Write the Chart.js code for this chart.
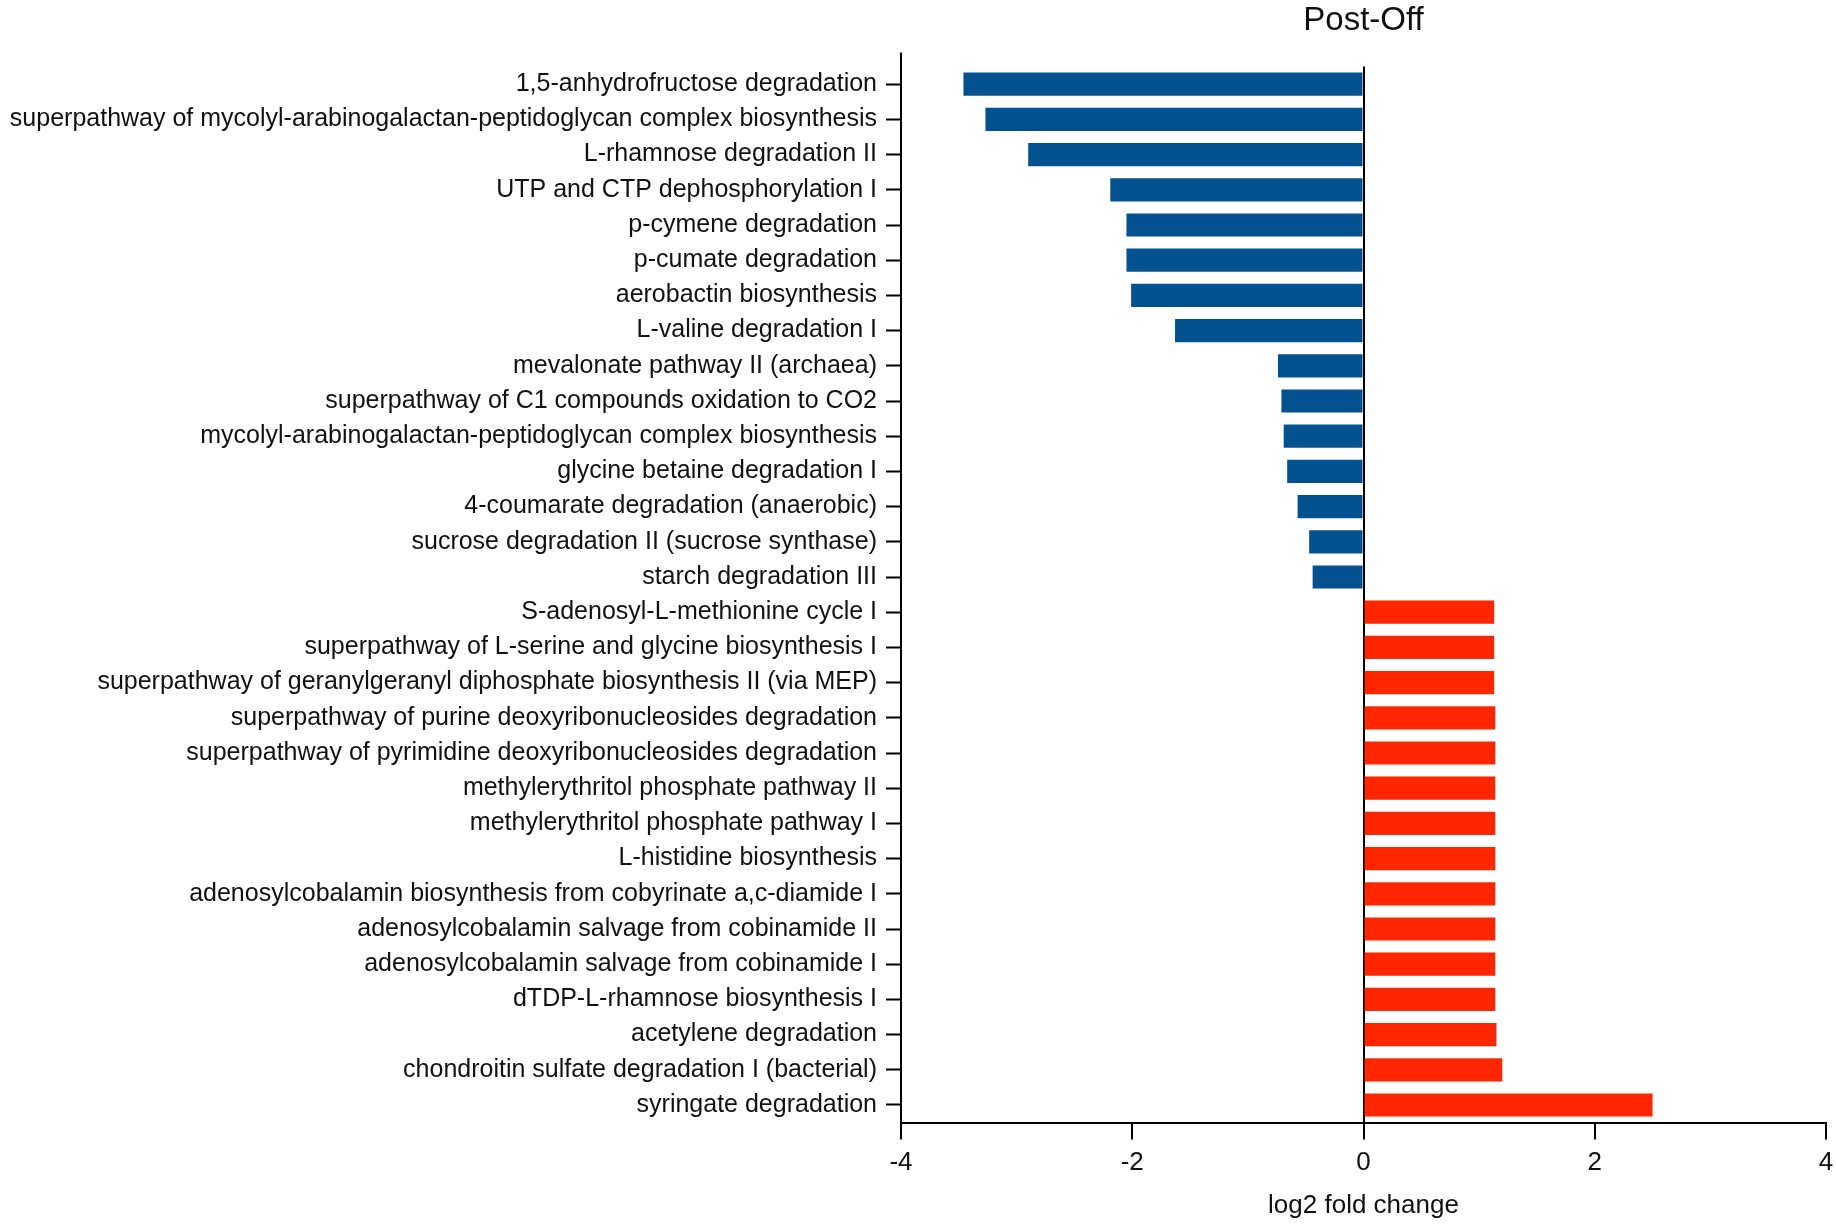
<!DOCTYPE html>
<html>
<head>
<meta charset="utf-8">
<script src="https://cdn.jsdelivr.net/npm/chart.js@4.4.0/dist/chart.umd.min.js"></script>
<style>
    html, body { margin: 0; padding: 0; background: #fff; }
    #wrap { width: 1836px; height: 1225px; }
</style>
</head>
<body>
<div id="wrap"><canvas id="foldChart"></canvas></div>
<script>
const pathways = [
    '1,5-anhydrofructose degradation',
    'superpathway of mycolyl-arabinogalactan-peptidoglycan complex biosynthesis',
    'L-rhamnose degradation II',
    'UTP and CTP dephosphorylation I',
    'p-cymene degradation',
    'p-cumate degradation',
    'aerobactin biosynthesis',
    'L-valine degradation I',
    'mevalonate pathway II (archaea)',
    'superpathway of C1 compounds oxidation to CO2',
    'mycolyl-arabinogalactan-peptidoglycan complex biosynthesis',
    'glycine betaine degradation I',
    '4-coumarate degradation (anaerobic)',
    'sucrose degradation II (sucrose synthase)',
    'starch degradation III',
    'S-adenosyl-L-methionine cycle I',
    'superpathway of L-serine and glycine biosynthesis I',
    'superpathway of geranylgeranyl diphosphate biosynthesis II (via MEP)',
    'superpathway of purine deoxyribonucleosides degradation',
    'superpathway of pyrimidine deoxyribonucleosides degradation',
    'methylerythritol phosphate pathway II',
    'methylerythritol phosphate pathway I',
    'L-histidine biosynthesis',
    'adenosylcobalamin biosynthesis from cobyrinate a,c-diamide I',
    'adenosylcobalamin salvage from cobinamide II',
    'adenosylcobalamin salvage from cobinamide I',
    'dTDP-L-rhamnose biosynthesis I',
    'acetylene degradation',
    'chondroitin sulfate degradation I (bacterial)',
    'syringate degradation'
];

const log2FoldChange = [
    -3.46, -3.27, -2.90, -2.19, -2.05, -2.05, -2.01, -1.63, -0.74, -0.71,
    -0.69, -0.66, -0.57, -0.47, -0.44,
    1.13, 1.13, 1.13, 1.14, 1.14, 1.14, 1.14, 1.14, 1.14, 1.14,
    1.14, 1.14, 1.15, 1.20, 2.50
];

const xTicks = [-4, -2, 0, 2, 4];

const downColor = '#03528f';
const upColor = '#ff2600';
const fontFamily = "'Liberation Sans', Arial, sans-serif";

// stretch the left axis line a little above the first bar, as in the figure
const axisExtend = {
    id: 'axisExtend',
    afterDraw(chart) {
        const ctx = chart.ctx;
        const area = chart.chartArea;
        ctx.save();
        ctx.strokeStyle = '#000';
        ctx.lineWidth = 2;
        ctx.beginPath();
        ctx.moveTo(area.left, area.top - 14);
        ctx.lineTo(area.left, area.top + 1);
        ctx.stroke();
        ctx.restore();
    }
};

const ctx = document.getElementById('foldChart').getContext('2d');
new Chart(ctx, {
    type: 'bar',
    data: {
        labels: pathways,
        datasets: [{
            data: log2FoldChange,
            backgroundColor: log2FoldChange.map(v => v < 0 ? downColor : upColor),
            borderWidth: 0,
            categoryPercentage: 1,
            barPercentage: 0.66
        }]
    },
    options: {
        indexAxis: 'y',
        responsive: true,
        maintainAspectRatio: false,
        animation: false,
        layout: {
            padding: { left: 0, right: 10, top: 0, bottom: 4 }
        },
        scales: {
            x: {
                min: -4,
                max: 4,
                afterBuildTicks: scale => {
                    scale.ticks = xTicks.map(v => ({ value: v }));
                },
                afterFit: scale => {
                    scale.paddingRight = 2;
                },
                border: { color: '#000', width: 2 },
                grid: {
                    color: c => c.tick && c.tick.value === 0 ? '#000' : 'rgba(0,0,0,0)',
                    lineWidth: 2,
                    tickColor: '#000',
                    tickLength: 17,
                    tickWidth: 2
                },
                ticks: {
                    color: '#111',
                    padding: 8,
                    font: { family: fontFamily, size: 26 }
                },
                title: {
                    display: true,
                    text: 'log2 fold change',
                    color: '#111',
                    padding: { top: 3, bottom: 0 },
                    font: { family: fontFamily, size: 26 }
                }
            },
            y: {
                border: { color: '#000', width: 2 },
                afterFit: scale => {
                    scale.width = 901;
                },
                grid: {
                    offset: false,
                    drawOnChartArea: false,
                    color: '#000',
                    tickLength: 15,
                    tickWidth: 2
                },
                ticks: {
                    color: '#111',
                    padding: 9,
                    autoSkip: false,
                    font: { family: fontFamily, size: 25 }
                }
            }
        },
        plugins: {
            legend: { display: false },
            tooltip: { enabled: false },
            title: {
                display: true,
                text: 'Post-Off',
                fullSize: false,
                color: '#111',
                padding: { top: 1, bottom: 26 },
                font: { family: fontFamily, size: 33, weight: 'normal' }
            }
        }
    },
    plugins: [axisExtend]
});
</script>
</body>
</html>
